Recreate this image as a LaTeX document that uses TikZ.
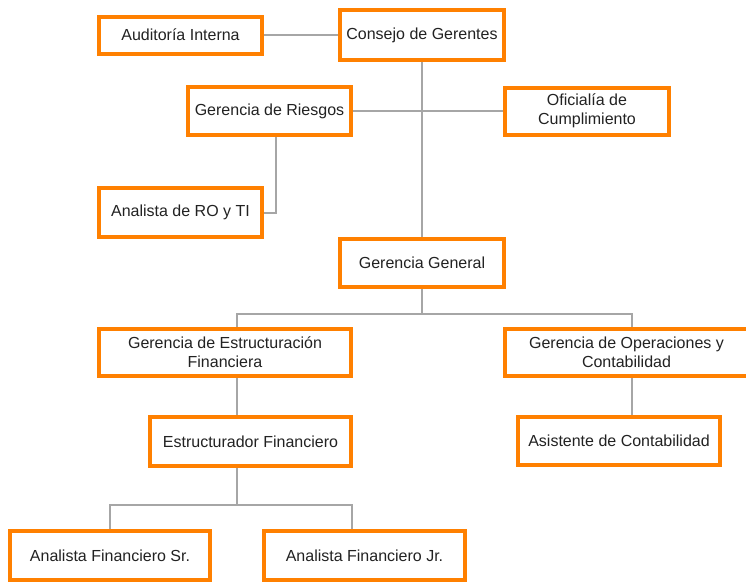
\documentclass[tikz,border=0pt]{standalone}
\usepackage{fontspec}
\setmainfont{Liberation Sans}
\pgfdeclarelayer{bg}
\pgfsetlayers{bg,main}
\definecolor{borange}{HTML}{FF8000}
\definecolor{lgray}{HTML}{A6A6A6}
\definecolor{tgray}{HTML}{222222}
\begin{document}
\begin{tikzpicture}[x=1pt,y=-1pt,
  box/.style={draw=borange,line width=4pt,fill=white,inner sep=2pt,
    align=center,text=tgray,font=\fontsize{16}{19}\selectfont},
  conn/.style={draw=lgray,line width=2pt}]
\useasboundingbox (0,0) rectangle (746,581);
\node[box,minimum width=163pt,minimum height=37pt] (aud) at (180.5,35) {Auditoría Interna};
\node[box,minimum width=164pt,minimum height=50pt] (cons) at (422,35) {Consejo de Gerentes};
\node[box,minimum width=163pt,minimum height=48pt] (ries) at (269.5,111) {Gerencia de Riesgos};
\node[box,minimum width=164pt,minimum height=47pt] (ofi) at (587,111) {Oficialía de\\Cumplimiento};
\node[box,minimum width=163pt,minimum height=49pt] (anro) at (180.5,212.5) {Analista de RO y TI};
\node[box,minimum width=164pt,minimum height=48pt] (gg) at (422,263) {Gerencia General};
\node[box,minimum width=252pt,minimum height=47pt] (gef) at (225,352.5) {Gerencia de Estructuración\\Financiera};
\node[box,minimum width=243pt,minimum height=47pt] (goc) at (626.5,352.5) {Gerencia de Operaciones y\\Contabilidad};
\node[box,minimum width=202pt,minimum height=48pt] (asis) at (619,441) {Asistente de Contabilidad};
\node[box,minimum width=201pt,minimum height=49pt] (estr) at (250.5,441.5) {Estructurador Financiero};
\node[box,minimum width=200pt,minimum height=49pt] (afsr) at (110,555.5) {Analista Financiero Sr.};
\node[box,minimum width=201pt,minimum height=49pt] (afjr) at (364.5,555.5) {Analista Financiero Jr.};
\coordinate (rr) at (276,0);
\coordinate (ggj) at (422,314);
\coordinate (gefx) at (237,0);
\coordinate (gocx) at (632,0);
\coordinate (estj) at (237,505);
\coordinate (srx) at (110,0);
\coordinate (jrx) at (352,0);
\begin{pgfonlayer}{bg}
\draw[conn] (aud.east) -- (cons.west);
\draw[conn] (cons.south) -- (gg.north);
\draw[conn] (ries.east) -- (ofi.west);
\draw[conn] (ries.south -| rr) |- (anro.east);
\draw[conn] (gg.south) -- (ggj);
\draw[conn] (gef.north -| gefx) |- (ggj) -| (goc.north -| gocx);
\draw[conn] (gef.south -| gefx) -- (estr.north -| gefx);
\draw[conn] (goc.south -| gocx) -- (asis.north -| gocx);
\draw[conn] (estr.south -| estj) -- (estj);
\draw[conn] (afsr.north -| srx) |- (estj) -| (afjr.north -| jrx);
\end{pgfonlayer}
\end{tikzpicture}
\end{document}
